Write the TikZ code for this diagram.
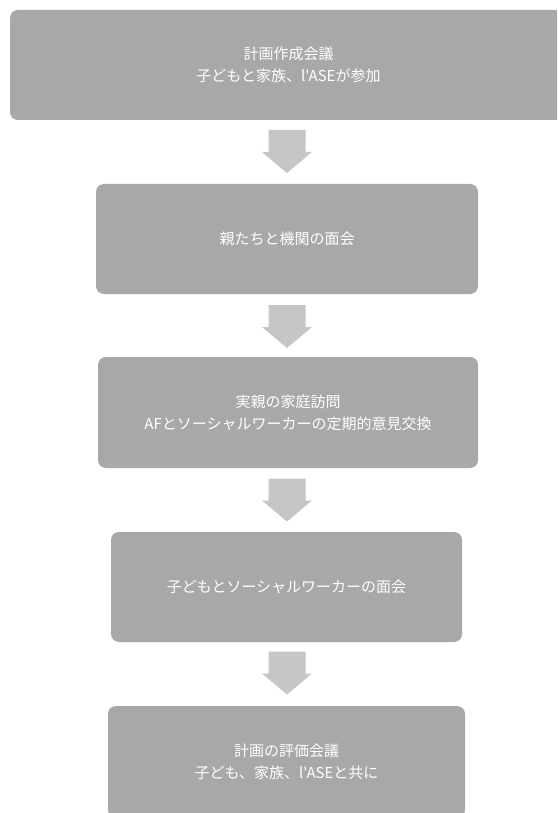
\documentclass[tikz,border=0pt]{standalone}
\usepackage{fontspec}
\newfontfamily\jp{Noto Sans CJK JP}
\definecolor{boxgray}{HTML}{A8A8A8}
\definecolor{arrowgray}{HTML}{C6C6C6}
\tikzset{
  stepbox/.style={fill=boxgray, rounded corners=8pt, draw=none, text=white,
    align=center, font=\jp\fontsize{15}{22}\selectfont, inner sep=0pt},
  downarrow/.style={fill=arrowgray, draw=none}
}
\newcommand{\blockarrow}[1]{%
  \fill[downarrow] (#1) ++(-18.5,-21.5) -- ++(37,0) -- ++(0,22) -- ++(6.5,0)
    -- ++(-25,21) -- ++(-25,-21) -- ++(6.5,0) -- cycle;}
\begin{document}
\begin{tikzpicture}[x=1pt,y=-1pt]
\clip (0,0) rectangle (557,813);
\fill[white] (0,0) rectangle (557,813);
\node[stepbox, minimum width=557pt, minimum height=110pt] (b1) at (288.5,65)
  {計画作成会議\\子どもと家族、l'ASEが参加};
\node[stepbox, minimum width=382pt, minimum height=110pt] (b2) at (287,239)
  {親たちと機関の面会};
\node[stepbox, minimum width=380pt, minimum height=111pt] (b3) at (288,412.5)
  {実親の家庭訪問\\AFとソーシャルワーカーの定期的意見交換};
\node[stepbox, minimum width=351pt, minimum height=110pt] (b4) at (286.5,587)
  {子どもとソーシャルワーカーの面会};
\node[stepbox, minimum width=357pt, minimum height=112pt] (b5) at (286.5,762)
  {計画の評価会議\\子ども、家族、l'ASEと共に};
\coordinate (a1) at (287,151.5);
\coordinate (a2) at (287,326.5);
\coordinate (a3) at (287,500);
\coordinate (a4) at (287,673);
\blockarrow{a1}
\blockarrow{a2}
\blockarrow{a3}
\blockarrow{a4}
\end{tikzpicture}
\end{document}
